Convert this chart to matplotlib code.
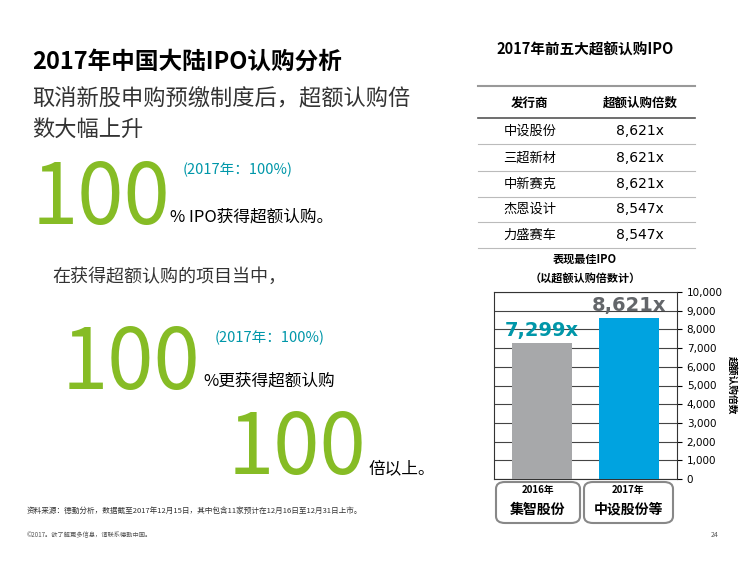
import matplotlib.pyplot as plt
from matplotlib.patches import FancyBboxPatch
from matplotlib.lines import Line2D

plt.rcParams['font.family'] = ['Noto Sans CJK SC']

W, H = 750, 563
GREEN = '#86BC25'
TEAL = '#0097A9'

years = ['2016年', '2017年']
companies = ['集智股份', '中设股份等']
multiples = [7299, 8621]
bar_labels = ['7,299x', '8,621x']
bar_colors = ['#A7A8AA', '#00A3E0']
label_colors = [TEAL, '#63666A']

issuers = ['中设股份', '三超新材', '中新赛克', '杰恩设计', '力盛赛车']
issuer_multiples = ['8,621x', '8,621x', '8,621x', '8,547x', '8,547x']

fig = plt.figure(figsize=(7.5, 5.63), dpi=100)


def T(x, y, s, **kw):
    fig.text(x / W, 1 - y / H, s, **kw)


def hline(x0, x1, y, color, lw):
    fig.add_artist(Line2D([x0 / W, x1 / W], [1 - y / H, 1 - y / H], color=color, lw=lw))


# left text block
T(32, 62, '2017年中国大陆IPO认购分析', fontsize=17, fontweight='bold', va='center')
T(32, 99, '取消新股申购预缴制度后，超额认购倍', fontsize=16, color='#333333', va='center')
T(32, 129, '数大幅上升', fontsize=16, color='#333333', va='center')

T(32, 200, '100', fontsize=60, color=GREEN, va='center')
T(183, 170, '(2017年：100%)', fontsize=10.5, color=TEAL, style='italic', va='center')
T(170, 217, '% IPO获得超额认购。', fontsize=12, va='center')
T(52, 277, '在获得超额认购的项目当中，', fontsize=13, color='#333333', va='center')
T(62, 365, '100', fontsize=60, color=GREEN, va='center')
T(215, 338, '(2017年：100%)', fontsize=10.5, color=TEAL, style='italic', va='center')
T(203, 381, '%更获得超额认购', fontsize=12, va='center')
T(228, 450, '100', fontsize=60, color=GREEN, va='center')
T(369, 469, '倍以上。', fontsize=12, va='center')

T(27, 511, '资料来源：德勤分析，数据截至2017年12月15日，其中包含11家预计在12月16日至12月31日上市。',
  fontsize=5.5, color='#333333', va='center')
T(27, 535, '©2017。欲了解更多信息，请联系德勤中国。', fontsize=4.5, color='#555555', va='center')
T(718, 535, '24', fontsize=5, color='#555555', va='center', ha='right')

# table
T(585, 50, '2017年前五大超额认购IPO', fontsize=10.5, fontweight='bold', ha='center', va='center')
hline(478, 695, 86, '#999999', 1.5)
T(530, 103, '发行商', fontsize=9, fontweight='bold', ha='center', va='center')
T(640, 103, '超额认购倍数', fontsize=9, fontweight='bold', ha='center', va='center')
hline(478, 695, 118, '#555555', 1.2)
row_y = [131, 158, 184, 209, 235]
for i, (n, m) in enumerate(zip(issuers, issuer_multiples)):
    T(530, row_y[i], n, fontsize=9.5, ha='center', va='center')
    T(640, row_y[i], m, fontsize=10, ha='center', va='center', family='DejaVu Sans')
    hline(478, 695, row_y[i] + 13, '#BBBBBB', 0.8)

# chart
T(585, 259, '表现最佳IPO', fontsize=8, fontweight='bold', ha='center', va='center')
T(585, 278, '（以超额认购倍数计）', fontsize=8, fontweight='bold', ha='center', va='center')
ax = fig.add_axes([494 / W, 1 - 479 / H, (677 - 494) / W, (479 - 292) / H])
x = [0, 1]
ax.bar(x, multiples, width=0.68, color=bar_colors, zorder=3)
for xi, v, lab, c in zip(x, multiples, bar_labels, label_colors):
    ax.text(xi, v + 150, lab, ha='center', va='bottom', fontsize=14, fontweight='bold',
            color=c, family='DejaVu Sans')
ax.set_xlim(-0.55, 1.55)
ax.set_ylim(0, 10000)
ax.set_yticks(range(0, 10001, 1000))
ax.set_yticklabels([f'{v:,}' for v in range(0, 10001, 1000)], family='DejaVu Sans', fontsize=7.5)
ax.yaxis.tick_right()
ax.yaxis.set_label_position('right')
ax.set_ylabel('超额认购倍数', fontsize=7, fontweight='bold', rotation=270, labelpad=10)
ax.set_xticks([])
ax.grid(axis='y', color='#444444', lw=0.8, zorder=0)
for s in ax.spines.values():
    s.set_color('#333333')

for i, (yr, co) in enumerate(zip(years, companies)):
    x0 = [496, 584][i]
    w = [84, 89][i]
    box = FancyBboxPatch((x0 / W, 1 - 523 / H), w / W, 41 / H, boxstyle='round,pad=0,rounding_size=0.012',
                         transform=fig.transFigure, fc='white', ec='#888888', lw=1.5)
    fig.add_artist(box)
    T(x0 + w / 2, 490, yr, fontsize=7, fontweight='bold', ha='center', va='center')
    T(x0 + w / 2, 510, co, fontsize=10, fontweight='bold', ha='center', va='center')

fig.savefig('out.png', dpi=100)
